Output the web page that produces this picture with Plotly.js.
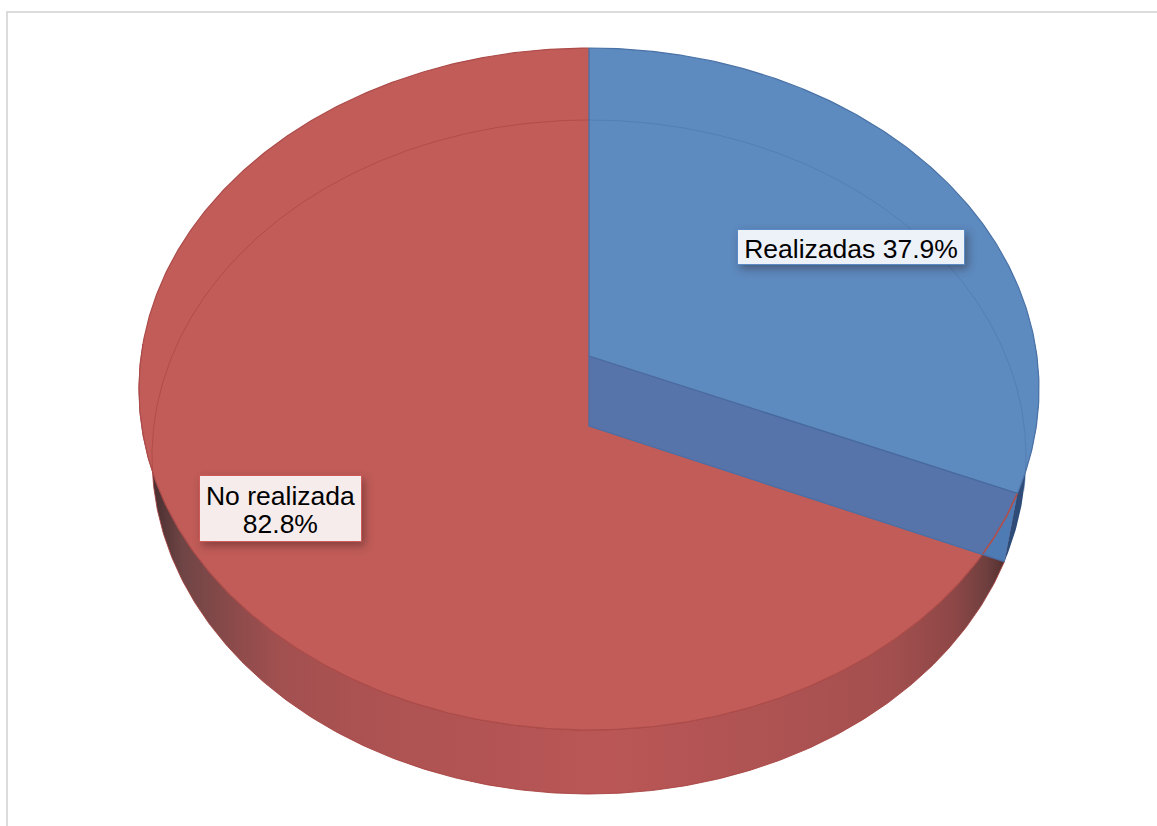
<!DOCTYPE html>
<html>
<head>
<meta charset="utf-8">
<script src="https://cdn.plot.ly/plotly-3.0.1.min.js"></script>
<style>
  html, body { margin: 0; padding: 0; background: #fff; overflow: hidden; }
  #chart { width: 1157px; height: 826px; }
  .annotation .bg { filter: drop-shadow(3px 4px 4px rgba(40, 20, 20, 0.38)); }
</style>
</head>
<body>
<div id="chart"></div>
<script>
// Survey result: activities carried out versus not carried out
const categories = ['Realizadas', 'No realizada'];
const percentages = [37.9, 82.8];
const labelTexts = ['Realizadas 37.9%', 'No realizada<br>82.8%'];
const labelCentres = [[851, 247], [280.5, 508.5]];
const labelSizes = [[228, 36], [163, 67]];

// Perspective outline of the disc, one entry for each of its two faces
const upperFace = { far: 48, centre: 356, near: 730, halfWidth: 450 };
const lowerFace = { far: 120, centre: 426, near: 794, halfWidth: 437 };
const axisX = 589;

const RED = '#C15C58', BLUE = '#5D8ABF', BAND = '#5674A9';
const wallStops = [
  [150, '#452C2E'], [183, '#704545'], [240, '#8F4B4B'], [283, '#A35050'],
  [373, '#AD5252'], [507, '#B45454'], [607, '#BA5656'], [653, '#B75555'],
  [787, '#AD5252'], [887, '#A44F4F'], [953, '#8F4747'], [987, '#6E3F3E'], [1005, '#52302F']
];

// Homography taking a unit circle, seen from above, to the tilted face
function makeFace(f) {
  const c = (f.far + f.near - 2 * f.centre) / (f.near - f.far);
  const b = f.far * (1 + c) - f.centre;
  const rx = f.halfWidth * Math.sqrt(1 - c * c);
  return deg => {
    const th = deg * Math.PI / 180, s = Math.sin(th), t = Math.cos(th), w = 1 + c * t;
    return [axisX + rx * s / w, (f.centre + b * t) / w];
  };
}
const upper = makeFace(upperFace), lower = makeFace(lowerFace);

function arc(face, from, to) {
  const n = Math.max(2, Math.ceil(Math.abs(to - from) * 2)), pts = [];
  for (let i = 0; i <= n; i++) pts.push(face(from + (to - from) * i / n));
  return pts;
}
const path = (pts, extra) => Object.assign({
  x: pts.map(p => p[0]), y: pts.map(p => p[1]), mode: 'lines', hoverinfo: 'skip', showlegend: false
}, extra);
const area = (pts, color) => path(pts.concat([pts[0]]), {
  fill: 'toself', fillcolor: color, line: { color: color, width: 0 }
});
const stroke = (pts, color, width) => path(pts, { line: { color: color, width: width } });

// The slices follow the shares of the two percentages, clockwise from twelve o'clock
const total = percentages.reduce((a, b) => a + b, 0);
const splitDeg = 360 * percentages[0] / total;

const topPivot = [axisX, upperFace.centre], lowPivot = [axisX, lowerFace.centre];
const topSplit = upper(splitDeg), lowSplit = lower(splitDeg);

// Curved side of the red slice
const wallPts = arc(lower, splitDeg, 272).concat(arc(upper, 272, splitDeg));
const wallLeft = wallStops[0][0], wallRight = wallStops[wallStops.length - 1][0];
const redWall = path(wallPts.concat([wallPts[0]]), {
  fill: 'toself',
  line: { color: 'rgba(165,62,60,0.85)', width: 1 },
  fillgradient: {
    type: 'horizontal', start: wallLeft, stop: wallRight,
    colorscale: wallStops.map(s => [(s[0] - wallLeft) / (wallRight - wallLeft), s[1]])
  }
});

// Curved side of the blue slice, mostly a thin sliver at the right edge
const blueWall = area(arc(lower, 88, splitDeg).concat(arc(upper, splitDeg, 88)), '#2F4C78');

// Faces of the slices
const blueTop = area([topPivot].concat(arc(upper, 0, splitDeg)), BLUE);
const redTop = area([topPivot].concat(arc(upper, splitDeg, 360)), RED);

// Flat cut of the blue slice, showing in front of the red face
const band = area([topPivot, topSplit, lowSplit, lowPivot], BAND);

// Part of the cut that lies beyond the rim of the red face
const slope = (lowSplit[1] - lowPivot[1]) / (lowSplit[0] - lowPivot[0]);
const rimPts = arc(upper, splitDeg, splitDeg + 40);
const rimInside = [];
for (const p of rimPts) {
  if (p[1] > lowPivot[1] + slope * (p[0] - lowPivot[0])) break;
  rimInside.push(p);
}
const bandTip = area(rimInside.concat([lowSplit]), '#4E7BB4');

const traces = [
  redWall, blueWall, blueTop, redTop, band, bandTip,
  stroke(arc(lower, 0, 101), 'rgba(70,112,165,0.45)', 1),
  stroke(arc(lower, 262, 360), 'rgba(165,62,62,0.55)', 1),
  stroke(arc(upper, 0, splitDeg), '#4A72A6', 1.2),
  stroke(arc(upper, splitDeg, 360), '#AC4C4A', 1.2),
  stroke(rimInside, '#B0504C', 1.4),
  stroke([[axisX, upperFace.far], lowPivot, lowSplit], '#4A6FA5', 1.3),
  stroke([topPivot, topSplit], '#46699F', 1.3),
];

const labelStyle = [
  { bgcolor: '#EDF1F8', bordercolor: '#5B8BC6' },
  { bgcolor: '#F6ECEC', bordercolor: '#CF5B58' }
];
const annotations = categories.map((_, i) => ({
  x: labelCentres[i][0], y: labelCentres[i][1], xref: 'x', yref: 'y',
  text: labelTexts[i], showarrow: false, xanchor: 'center', yanchor: 'middle', align: 'center',
  valign: 'middle', width: labelSizes[i][0] - 2, height: labelSizes[i][1] - 2, borderpad: 0, borderwidth: 1,
  bgcolor: labelStyle[i].bgcolor, bordercolor: labelStyle[i].bordercolor,
  font: { family: 'Liberation Sans, Arial, sans-serif', size: 26.5, color: '#000' }
}));

const layout = {
  width: 1157, height: 826,
  margin: { l: 0, r: 0, t: 0, b: 0 },
  paper_bgcolor: '#fff', plot_bgcolor: '#fff', showlegend: false,
  xaxis: { range: [0, 1157], visible: false, fixedrange: true },
  yaxis: { range: [826, 0], visible: false, fixedrange: true },
  // Chart area border, running off the right and bottom of the page
  shapes: [{ type: 'rect', xref: 'x', yref: 'y', x0: 7, y0: 12, x1: 1200, y1: 900, layer: 'below',
             line: { color: '#DCDCDC', width: 2 } }],
  annotations: annotations
};

Plotly.newPlot('chart', traces, layout, { displayModeBar: false, staticPlot: true }).then(() => {
  // Tighter leading for the two-line label; all label text sits a little lower in its box
  document.querySelectorAll('.annotation-text').forEach(label => {
    label.setAttribute('transform', 'translate(0,2)');
    const lines = label.querySelectorAll('tspan.line');
    if (lines.length > 1) lines.forEach((t, i) => t.setAttribute('dy', (0.1 + i * 1.07) + 'em'));
  });
});
</script>
</body>
</html>
